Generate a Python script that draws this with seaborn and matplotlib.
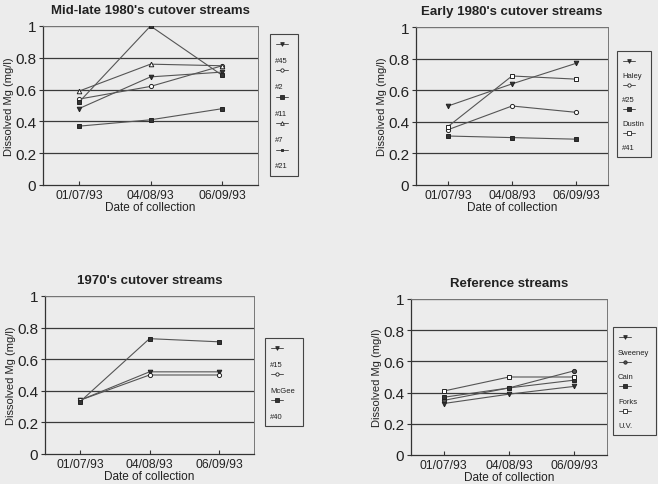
import matplotlib
matplotlib.use("Agg")
import matplotlib.pyplot as plt
import seaborn as sns
import pandas as pd
from matplotlib.lines import Line2D
from matplotlib.patches import Rectangle

dates = ["01/07/93", "04/08/93", "06/09/93"]

# Panel 1: Mid-late 1980's cutover streams
p1_names = ["#45", "#2", "#11", "#7", "#21"]
p1_45 = [0.48, 0.68, 0.71]
p1_2 = [0.54, 0.62, 0.75]
p1_11 = [0.52, 1.00, 0.69]
p1_7 = [0.59, 0.76, 0.75]
p1_21 = [0.37, 0.41, 0.48]

# Panel 2: Early 1980's cutover streams
p2_names = ["Haley", "#25", "Dustin", "#41"]
p2_haley = [0.50, 0.64, 0.77]
p2_25 = [0.35, 0.50, 0.46]
p2_dustin = [0.31, 0.30, 0.29]
p2_41 = [0.37, 0.69, 0.67]

# Panel 3: 1970's cutover streams
p3_names = ["#15", "McGee", "#40"]
p3_15 = [0.34, 0.52, 0.52]
p3_mcgee = [0.34, 0.50, 0.50]
p3_40 = [0.33, 0.73, 0.71]

# Panel 4: Reference streams
p4_names = ["Sweeney", "Cain", "Forks", "U.V."]
p4_sweeney = [0.33, 0.39, 0.44]
p4_cain = [0.35, 0.43, 0.54]
p4_forks = [0.37, 0.43, 0.48]
p4_uv = [0.41, 0.50, 0.50]

titles = ["Mid-late 1980's cutover streams", "Early 1980's cutover streams",
          "1970's cutover streams", "Reference streams"]
yticks = [0, 0.2, 0.4, 0.6, 0.8, 1.0]
ytick_labels = ["0", "0.2", "0.4", "0.6", "0.8", "1"]

sns.set_theme(style="white")
plt.rcParams['font.family'] = ['Liberation Sans', 'DejaVu Sans']

BG = "#ececec"
W, H = 658, 485
fig = plt.figure(figsize=(W / 100, H / 100), dpi=100, facecolor=BG)

def frac(l, r, t, b):
    return [l / W, 1 - b / H, (r - l) / W, (b - t) / H]

# marker styles: (marker, size, facecolor)
STY = {
    "v": ("v", 3.3, "#333333"),
    "o": ("o", 3.0, "white"),
    "s": ("s", 3.0, "#333333"),
    "^": ("^", 3.3, "white"),
    "x": ("s", 2.6, "#333333"),
    "so": ("s", 3.0, "white"),
    "of": ("o", 3.0, "#555555"),
}

panels = [
    dict(box=frac(43, 258, 27, 186), leg=(270, 298, 35, 177),
         names=p1_names, vals=[p1_45, p1_2, p1_11, p1_7, p1_21],
         mk=["v", "o", "s", "^", "x"]),
    dict(box=frac(416, 608, 28, 186), leg=(617, 651, 52, 158),
         names=p2_names, vals=[p2_haley, p2_25, p2_dustin, p2_41],
         mk=["v", "o", "s", "so"]),
    dict(box=frac(45, 254, 297, 455), leg=(265, 303, 339, 427),
         names=p3_names, vals=[p3_15, p3_mcgee, p3_40],
         mk=["v", "o", "s"]),
    dict(box=frac(411, 607, 300, 456), leg=(613, 656, 328, 436),
         names=p4_names, vals=[p4_sweeney, p4_cain, p4_forks, p4_uv],
         mk=["v", "of", "s", "so"]),
]

for i, p in enumerate(panels):
    ax = fig.add_axes(p["box"])
    ax.set_facecolor(BG)
    for name, vals, mk in zip(p["names"], p["vals"], p["mk"]):
        m, ms, fc = STY[mk]
        df = pd.DataFrame({"date": dates, "mg": vals})
        sns.lineplot(data=df, x="date", y="mg", ax=ax, color="#555555",
                     lw=0.8, marker=m, markersize=ms, markerfacecolor=fc,
                     markeredgecolor="#222222", markeredgewidth=0.7,
                     zorder=3, sort=False)
    ax.set_xlim(-0.5, 2.5)
    ax.set_ylim(0, 1)
    ax.set_yticks(yticks)
    ax.set_yticklabels(ytick_labels, fontsize=11, color="#222222")
    ax.set_xticks(range(len(dates)))
    ax.set_xticklabels(dates, fontsize=8.7, color="#222222")
    for y in yticks[1:]:
        ax.axhline(y, color="#3a3a3a", lw=0.9, zorder=1)
    for s in ["left", "bottom"]:
        ax.spines[s].set_color("#333333")
        ax.spines[s].set_linewidth(0.9)
    for s in ["top", "right"]:
        ax.spines[s].set_color("#777777")
        ax.spines[s].set_linewidth(0.7)
    ax.tick_params(axis="y", direction="out", length=3, width=0.8,
                   color="#333333", pad=2, left=True)
    ax.tick_params(axis="x", direction="in", length=3, width=0.8,
                   color="#333333", pad=3, bottom=True)
    ax.set_xlabel("Date of collection", fontsize=8.5, color="#222222", labelpad=0)
    ax.set_ylabel("Dissolved Mg (mg/l)", fontsize=8, color="#222222", labelpad=1)
    ax.set_title(titles[i], fontsize=9.5, fontweight="bold", color="#222222", pad=9)

    # legend box (Excel-like: marker sample above the label)
    l, r, t, b = p["leg"]
    fig.add_artist(Rectangle((l / W, 1 - b / H), (r - l) / W, (b - t) / H,
                             transform=fig.transFigure, facecolor=BG,
                             edgecolor="#444444", lw=0.8))
    n = len(p["names"])
    step = (b - t - 10) / n
    for k, (name, mk) in enumerate(zip(p["names"], p["mk"])):
        m, ms, fc = STY[mk]
        ym = t + 10 + k * step
        fig.add_artist(Line2D([(l + 6) / W, (l + 18) / W], [1 - ym / H] * 2,
                              transform=fig.transFigure, color="#555555", lw=0.7))
        fig.add_artist(Line2D([(l + 12) / W], [1 - ym / H],
                              transform=fig.transFigure, marker=m,
                              markersize=ms * 0.8, markerfacecolor=fc,
                              markeredgecolor="#222222", markeredgewidth=0.6,
                              linestyle="none"))
        fig.text((l + 5) / W, 1 - (ym + step * 0.62) / H, name,
                 fontsize=5.5, color="#222222", va="center", ha="left")

fig.savefig("out.png", dpi=100, facecolor=BG)
